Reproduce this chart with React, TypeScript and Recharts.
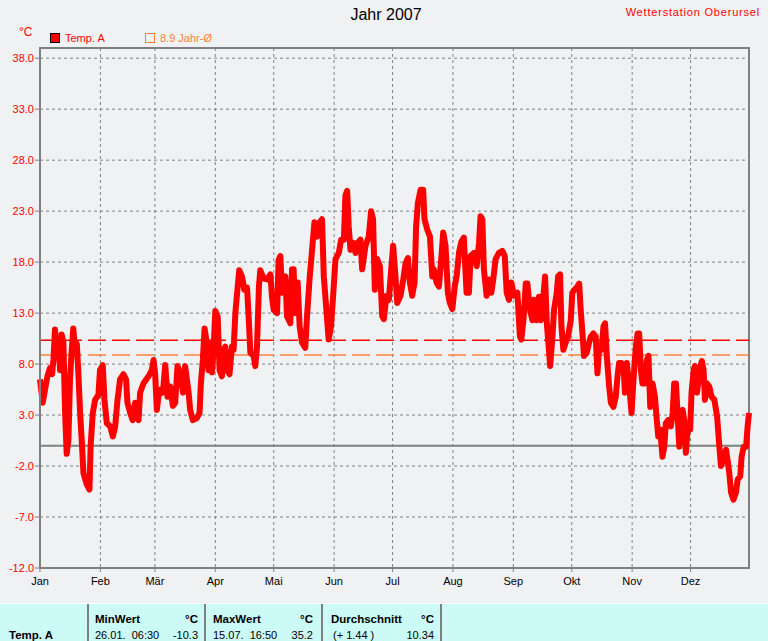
import React from 'react';
import { LineChart, Line, XAxis, YAxis, CartesianGrid, ReferenceLine, ReferenceArea } from 'recharts';

const FONT = "'Liberation Sans', Arial, sans-serif";

const monthTicks = [0, 31, 59, 90, 120, 151, 181, 212, 243, 273, 304, 334];
const monthLabels = ['Jan', 'Feb', 'Mär', 'Apr', 'Mai', 'Jun', 'Jul', 'Aug', 'Sep', 'Okt', 'Nov', 'Dez'];
const yTicks = [-12, -7, -2, 3, 8, 13, 18, 23, 28, 33, 38];
const yearAverage = 10.34;
const longTermAverage = 8.9;

// [day of year, temperature °C]
const janToApr: [number, number][] = [
  [0, 6.5], [1.4, 4.2], [2.6, 5.5], [3.8, 6.8], [5.1, 7.6], [6.2, 7.0], [6.9, 8.4], [7.7, 11.4], [8.6, 9.5], [9.4, 10.4],
  [10.3, 7.4], [11.1, 10.9], [12.0, 10.2], [12.9, 3.2], [13.7, -0.8], [14.6, 0.6], [15.4, 6.5], [16.3, 9.4], [17.1, 11.5],
  [18.0, 9.4], [18.9, 10.0], [19.7, 7.1], [20.6, 3.2], [21.4, 0.6], [22.3, -2.7], [24.0, -3.8], [25.4, -4.3], [26.0, 0.0],
  [27.1, 3.2], [28.3, 4.5], [30.0, 5.0], [30.8, 7.4], [32.2, 7.9], [33.1, 4.5], [34.3, 2.2], [36.0, 1.9], [37.4, 0.9],
  [38.6, 1.9], [39.8, 4.5], [41.1, 6.5], [42.8, 7.0], [44.2, 6.5], [44.9, 4.2], [46.3, 3.2], [47.6, 2.5], [48.8, 4.2],
  [49.7, 2.9], [50.6, 2.5], [51.4, 5.2], [53.1, 6.1], [55.7, 6.8], [57.4, 7.4], [58.3, 8.4], [59.1, 7.1], [60.0, 3.5],
  [60.8, 4.8], [62.0, 5.5], [63.1, 5.2], [64.3, 7.9], [65.5, 4.8], [66.8, 5.8], [68.2, 3.9], [69.4, 4.2], [70.6, 7.8],
  [72.0, 7.1], [73.4, 5.2], [74.5, 7.8], [75.4, 6.5], [76.3, 5.2], [77.1, 3.5], [78.5, 2.5], [80.5, 2.7], [81.9, 3.2],
  [82.6, 6.1], [83.6, 8.4], [84.5, 11.5], [85.7, 10.0], [86.5, 7.4], [87.4, 10.0], [88.3, 7.2], [89.1, 9.4], [90.0, 13.2],
  [91.2, 12.7], [92.2, 7.4], [93.4, 6.8], [94.3, 9.4], [95.1, 9.7], [96.0, 7.4], [97.3, 7.0], [98.5, 9.7], [99.4, 9.4],
  [100.3, 13.0], [101.5, 15.6], [102.3, 17.2], [103.7, 16.6], [104.9, 15.3], [106.3, 15.5], [107.1, 12.7], [108.0, 9.1],
  [109.7, 8.8], [110.5, 7.8], [111.4, 9.7], [112.4, 15.6], [113.1, 17.2], [114.8, 16.4], [116.5, 16.3], [118.3, 16.8],
  [119.1, 14.6], [120.0, 13.3], [121.7, 13.0], [122.5, 18.2],
];

const mayToAug: [number, number][] = [
  [123.4, 18.6], [124.2, 15.0], [126.0, 16.6], [126.8, 12.7], [128.5, 12.0], [129.4, 17.3], [130.2, 17.3], [131.1, 13.0],
  [132.3, 16.0], [133.3, 11.7], [134.5, 10.1], [136.2, 9.6], [137.1, 12.7], [138.5, 16.6], [139.7, 19.2], [140.9, 21.9],
  [142.2, 20.5], [143.6, 21.9], [144.8, 22.2], [145.7, 16.6], [147.0, 13.4], [148.2, 10.4], [149.4, 11.7], [150.5, 14.7],
  [151.7, 18.3], [153.4, 18.9], [154.6, 20.2], [156.0, 20.2], [156.8, 24.5], [157.7, 25.0], [158.5, 21.5], [159.4, 19.2],
  [160.8, 19.9], [162.0, 18.9], [163.2, 19.9], [164.5, 20.2], [165.4, 17.3], [167.1, 19.6], [168.8, 20.5], [170.0, 23.0],
  [171.0, 22.2], [171.9, 15.3], [173.1, 18.3], [174.5, 17.6], [175.7, 12.7], [176.5, 12.4], [177.9, 14.7], [179.1, 14.3],
  [180.3, 17.3], [181.3, 19.6], [182.5, 16.6], [183.4, 14.0], [185.1, 14.7], [186.5, 16.3], [187.7, 17.9], [188.9, 18.4],
  [189.9, 16.0], [191.1, 14.7], [192.3, 16.0], [193.1, 21.5], [194.0, 23.8], [195.4, 25.1], [196.7, 25.1], [197.4, 22.2],
  [198.8, 21.2], [200.2, 20.5], [201.4, 16.6], [202.2, 17.3], [203.6, 16.0], [204.8, 15.6], [206.0, 18.3], [207.0, 20.9],
  [208.2, 19.6], [209.4, 15.0], [210.4, 14.0], [211.7, 13.4], [212.9, 15.6], [213.9, 16.6], [215.1, 18.9], [216.3, 20.0],
  [217.6, 20.4], [219.0, 15.0], [220.2, 15.0], [221.1, 18.6], [222.8, 18.9], [224.2, 17.6], [225.4, 19.9], [226.2, 22.5],
  [227.1, 22.2], [227.9, 17.3], [229.3, 14.7], [230.5, 16.3], [231.7, 15.0], [232.7, 16.3], [233.9, 18.3], [235.6, 18.9],
  [237.4, 19.1], [238.6, 18.6], [239.6, 15.0], [240.8, 14.3], [242.0, 16.0], [243.4, 14.7], [245.1, 15.0], [246.4, 10.7],
];

const sepToDec: [number, number][] = [
  [247.1, 10.4], [248.2, 12.3], [249.4, 15.9], [250.2, 15.9], [251.6, 13.3], [252.8, 12.3], [253.6, 14.3], [255.0, 12.3],
  [256.2, 14.6], [257.1, 12.3], [258.4, 14.6], [259.3, 16.6], [260.2, 12.0], [261.0, 10.1], [261.9, 7.8], [263.1, 10.7],
  [263.9, 13.3], [265.3, 15.0], [266.0, 16.6], [267.0, 16.8], [267.7, 11.7], [268.7, 9.4], [269.9, 10.1], [271.1, 10.7],
  [272.5, 12.3], [273.3, 15.0], [274.5, 15.3], [275.9, 15.6], [276.8, 15.9], [277.6, 13.3], [278.5, 11.0], [279.3, 8.8],
  [280.7, 9.1], [281.9, 10.1], [282.8, 10.7], [284.1, 11.0], [285.3, 10.7], [286.2, 7.1], [287.1, 9.7], [288.3, 9.4],
  [289.3, 11.7], [290.1, 12.0], [291.0, 8.8], [292.2, 5.8], [293.1, 4.2], [294.4, 3.8], [295.6, 4.8], [296.5, 6.8],
  [297.3, 8.1], [298.5, 8.1], [299.6, 7.8], [300.3, 5.2], [301.3, 8.1], [302.5, 5.8], [303.7, 3.2], [304.7, 6.5],
  [305.9, 9.7], [306.8, 11.0], [307.6, 11.0], [308.5, 7.4], [309.3, 6.1], [310.5, 6.1], [311.6, 8.4], [312.4, 8.8],
  [313.3, 3.8], [314.5, 6.1], [315.7, 4.8], [316.5, 2.9], [317.4, 0.9], [318.4, 1.6], [319.6, -1.1], [320.5, -0.1],
  [321.3, 2.2], [322.5, 2.5], [323.9, 1.9], [324.8, 3.2], [325.6, 6.1], [326.5, 6.1], [327.3, 3.2], [328.2, -0.1],
  [329.0, 3.2], [329.9, 3.5], [330.8, 2.5], [331.6, -0.7], [332.5, 1.6], [333.8, 1.6], [334.5, 5.2], [335.6, 7.4],
  [336.2, 7.8], [337.3, 5.2], [338.1, 6.5], [339.0, 7.8], [339.8, 8.3], [340.7, 7.4], [341.4, 4.5], [342.4, 6.1],
  [343.6, 5.8], [344.8, 4.8], [346.2, 4.5], [347.6, 2.9], [348.8, -0.1], [349.6, -2.0], [351.0, -1.4], [352.2, -0.4],
  [353.0, -1.4], [353.9, -2.7], [354.8, -4.6], [356.0, -5.3], [357.3, -4.6], [358.2, -3.3], [359.5, -3.0], [360.2, -1.1],
  [361.3, -0.1], [362.5, -0.1], [363.3, 1.9], [364.0, 3.2],
];

const data = [...janToApr, ...mayToAug, ...sepToDec].map(([day, temp]) => ({ day, temp }));

const abs = (s: React.CSSProperties): React.CSSProperties => ({ position: 'absolute', fontFamily: FONT, whiteSpace: 'pre', ...s });

export default function App() {
  return (
    <div style={{ position: 'absolute', left: 0, top: 0, width: 768, height: 641, background: '#f0f1f3', overflow: 'hidden' }}>
      <LineChart width={768} height={604} data={data} margin={{ top: 48, right: 19, bottom: 6, left: 0 }}>
        <CartesianGrid stroke="#808080" strokeDasharray="3 3" />
        <XAxis
          dataKey="day"
          type="number"
          domain={[0, 364]}
          ticks={monthTicks}
          interval={0}
          height={30}
          tickFormatter={(v: number) => monthLabels[monthTicks.indexOf(v)] ?? ''}
          tick={{ fill: '#000000', fontSize: 11, fontFamily: FONT }}
          axisLine={{ stroke: '#808080', strokeWidth: 2 }}
          tickLine={{ stroke: '#808080' }}
          tickSize={4}
          tickMargin={5}
        />
        <YAxis
          type="number"
          domain={[-12, 39]}
          ticks={yTicks}
          interval={0}
          width={40}
          tickFormatter={(v: number) => v.toFixed(1)}
          tick={{ fill: '#ff0000', fontSize: 11, fontFamily: FONT }}
          axisLine={{ stroke: '#808080', strokeWidth: 2 }}
          tickLine={{ stroke: '#808080' }}
          tickSize={5}
          tickMargin={1}
        />
        <ReferenceLine y={0} stroke="#808080" strokeWidth={2} />
        <ReferenceLine y={yearAverage} stroke="#ff0000" strokeWidth={1.5} strokeDasharray="18 6" />
        <ReferenceLine y={longTermAverage} stroke="#ff8040" strokeWidth={1.5} strokeDasharray="18 6" />
        <Line
          type="linear"
          dataKey="temp"
          stroke="#ff0000"
          strokeWidth={6}
          strokeLinejoin="round"
          dot={false}
          activeDot={false}
          isAnimationActive={false}
        />
        <ReferenceArea x1={0} x2={364} y1={-12} y2={39} fill="none" stroke="#808080" strokeWidth={2} ifOverflow="visible" />
      </LineChart>

      <div style={abs({ left: 0, width: 772, top: 5, lineHeight: '20px', fontSize: 16, color: '#000', textAlign: 'center' })}>Jahr 2007</div>
      <div style={abs({ right: 8, top: 3, lineHeight: '18px', fontSize: 11, letterSpacing: 0.8, color: '#ff0000' })}>Wetterstation Oberursel</div>
      <div style={abs({ left: 19, top: 24, lineHeight: '16px', fontSize: 12, color: '#ff0000' })}>°C</div>

      <div style={{ position: 'absolute', left: 50, top: 33, width: 10, height: 10, boxSizing: 'border-box', border: '1px solid #000', background: '#ff0000' }} />
      <div style={abs({ left: 65, top: 30, lineHeight: '16px', fontSize: 11, color: '#ff0000' })}>Temp. A</div>
      <div style={{ position: 'absolute', left: 145, top: 33, width: 10, height: 10, boxSizing: 'border-box', border: '1px solid #ff8040' }} />
      <div style={abs({ left: 160, top: 30, lineHeight: '16px', fontSize: 11, color: '#ff8040' })}>8.9 Jahr-Ø</div>

      <div style={{ position: 'absolute', left: 0, top: 603, width: 768, height: 38, background: '#ccfaf6', borderTop: '1px solid #ffffff' }} />
      {[88, 205, 322, 441].map((x) => (
        <div key={x} style={{ position: 'absolute', left: x - 1, top: 604, width: 2, height: 37, background: '#808080' }} />
      ))}
      <div style={abs({ left: 9, top: 627, lineHeight: '16px', fontSize: 11.5, fontWeight: 'bold', color: '#000' })}>Temp. A</div>

      <div style={abs({ left: 95, top: 611, lineHeight: '16px', fontSize: 11.5, fontWeight: 'bold', color: '#000' })}>MinWert</div>
      <div style={abs({ left: 150, width: 48, textAlign: 'right', top: 611, lineHeight: '16px', fontSize: 11.5, fontWeight: 'bold', color: '#000' })}>°C</div>
      <div style={abs({ left: 95, top: 627, lineHeight: '16px', fontSize: 11, color: '#000' })}>26.01.  06:30</div>
      <div style={abs({ left: 150, width: 48, textAlign: 'right', top: 627, lineHeight: '16px', fontSize: 11, color: '#000' })}>-10.3</div>

      <div style={abs({ left: 213, top: 611, lineHeight: '16px', fontSize: 11.5, fontWeight: 'bold', color: '#000' })}>MaxWert</div>
      <div style={abs({ left: 265, width: 48, textAlign: 'right', top: 611, lineHeight: '16px', fontSize: 11.5, fontWeight: 'bold', color: '#000' })}>°C</div>
      <div style={abs({ left: 213, top: 627, lineHeight: '16px', fontSize: 11, color: '#000' })}>15.07.  16:50</div>
      <div style={abs({ left: 265, width: 48, textAlign: 'right', top: 627, lineHeight: '16px', fontSize: 11, color: '#000' })}>35.2</div>

      <div style={abs({ left: 331, top: 611, lineHeight: '16px', fontSize: 11.5, fontWeight: 'bold', color: '#000' })}>Durchschnitt</div>
      <div style={abs({ left: 400, width: 34, textAlign: 'right', top: 611, lineHeight: '16px', fontSize: 11.5, fontWeight: 'bold', color: '#000' })}>°C</div>
      <div style={abs({ left: 333, top: 627, lineHeight: '16px', fontSize: 11, color: '#000' })}>(+ 1.44 )</div>
      <div style={abs({ left: 386, width: 48, textAlign: 'right', top: 627, lineHeight: '16px', fontSize: 11, color: '#000' })}>10.34</div>
    </div>
  );
}
